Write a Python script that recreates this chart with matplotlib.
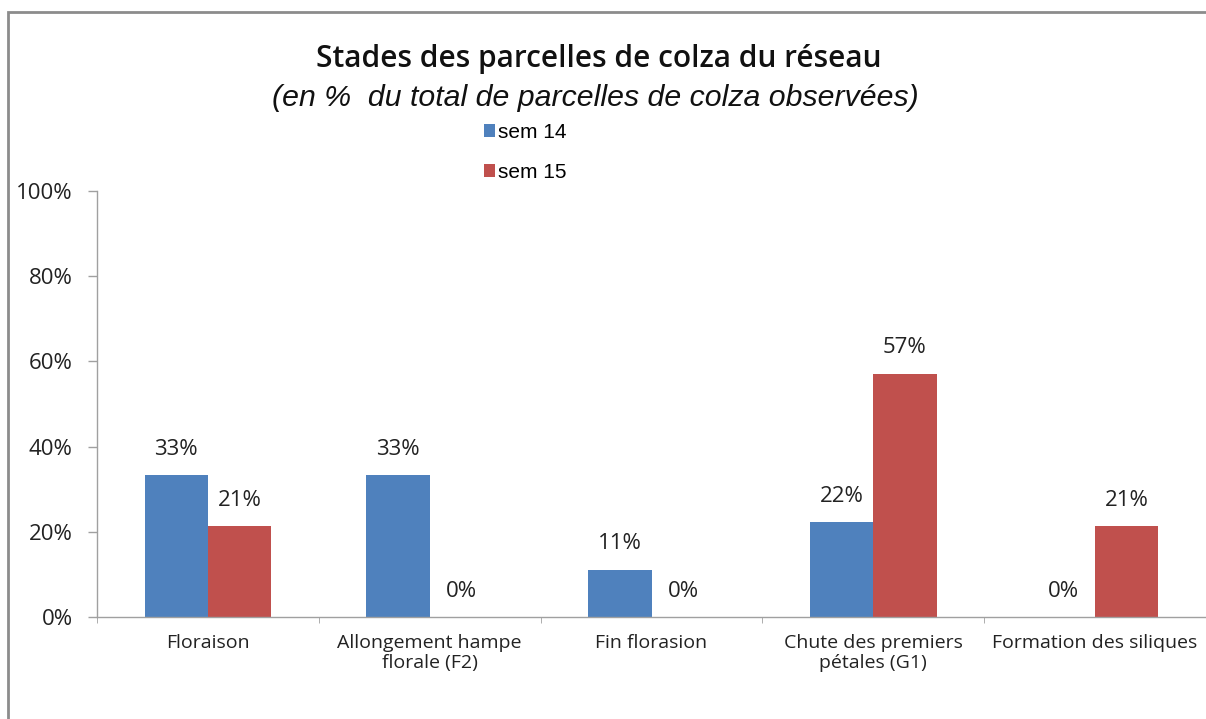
import matplotlib
matplotlib.use("Agg")
import matplotlib.pyplot as plt
import numpy as np
from matplotlib.patches import Rectangle

categories = ["Floraison", "Allongement hampe\nflorale (F2)", "Fin florasion",
              "Chute des premiers\npétales (G1)", "Formation des siliques"]
sem14 = [33.3, 33.3, 11.1, 22.2, 0.0]
sem15 = [21.4, 0.0, 0.0, 57.1, 21.4]
labels14 = ["33%", "33%", "11%", "22%", "0%"]
labels15 = ["21%", "0%", "0%", "57%", "21%"]
yticks = [0, 20, 40, 60, 80, 100]
ytick_labels = ["0%", "20%", "40%", "60%", "80%", "100%"]

plt.rcParams['font.family'] = ['Open Sans', 'DejaVu Sans']

W, H = 1206, 719
fig = plt.figure(figsize=(W/100, H/100), dpi=100)
fig.patch.set_facecolor("white")

# outer frame
fig.add_artist(Rectangle((8/W, -0.1), 1.2, 1 - 12/H + 0.1, transform=fig.transFigure,
                         fill=False, edgecolor="#8c8c8c", linewidth=2))

ax = fig.add_axes([97/W, 1 - 617/H, 1 - 97/W, (617 - 191)/H])
x = np.arange(len(categories))
w = 0.2857
c14, c15 = "#4F81BD", "#C0504D"
b1 = ax.bar(x - w/2, sem14, w, color=c14, label="sem 14")
b2 = ax.bar(x + w/2, sem15, w, color=c15, label="sem 15")

for bars, labs in ((b1, labels14), (b2, labels15)):
    for b, t in zip(bars, labs):
        ax.annotate(t, (b.get_x() + b.get_width()/2, b.get_height()),
                    xytext=(0, 11), textcoords="offset points",
                    ha="center", va="bottom", fontsize=16, color="#222222")

ax.set_xlim(-0.5, len(categories) - 0.5)
ax.set_ylim(0, 100)
ax.set_yticks(yticks)
ax.set_yticklabels(ytick_labels, fontsize=16, color="#222222")
ax.set_xticks(x)
ax.set_xticklabels(categories, fontsize=14, color="#222222", linespacing=1.15)
ax.set_xticks(np.arange(len(categories) + 1) - 0.5, minor=True)
ax.tick_params(axis="x", which="major", length=0, pad=12)
ax.tick_params(axis="x", which="minor", length=4.5, color="#a0a0a0", direction="out")
ax.tick_params(axis="y", length=6.5, color="#a0a0a0", pad=11, width=1)
for s in ("top", "right"):
    ax.spines[s].set_visible(False)
for s in ("left", "bottom"):
    ax.spines[s].set_color("#a0a0a0")
    ax.spines[s].set_linewidth(1)

fig.text(599/W, 1 - 59/H, "Stades des parcelles de colza du réseau", ha="center", va="center",
         fontsize=21.5, fontweight="semibold", color="#111111")
fig.text(595/W, 1 - 98/H, "(en %  du total de parcelles de colza observées)", ha="center",
         va="center", fontsize=21.8, style="italic", color="#111111",
         family=["Liberation Sans", "DejaVu Sans"])

ax.legend(loc="upper left", bbox_to_anchor=(484/W, 1 - 123/H), bbox_transform=fig.transFigure,
          frameon=False, prop={"family": ["Liberation Sans"], "size": 15},
          handlelength=0.53, handleheight=0.53, handletextpad=0.12,
          labelspacing=1.0, borderpad=0, borderaxespad=0)

fig.savefig("out.png", dpi=100)
